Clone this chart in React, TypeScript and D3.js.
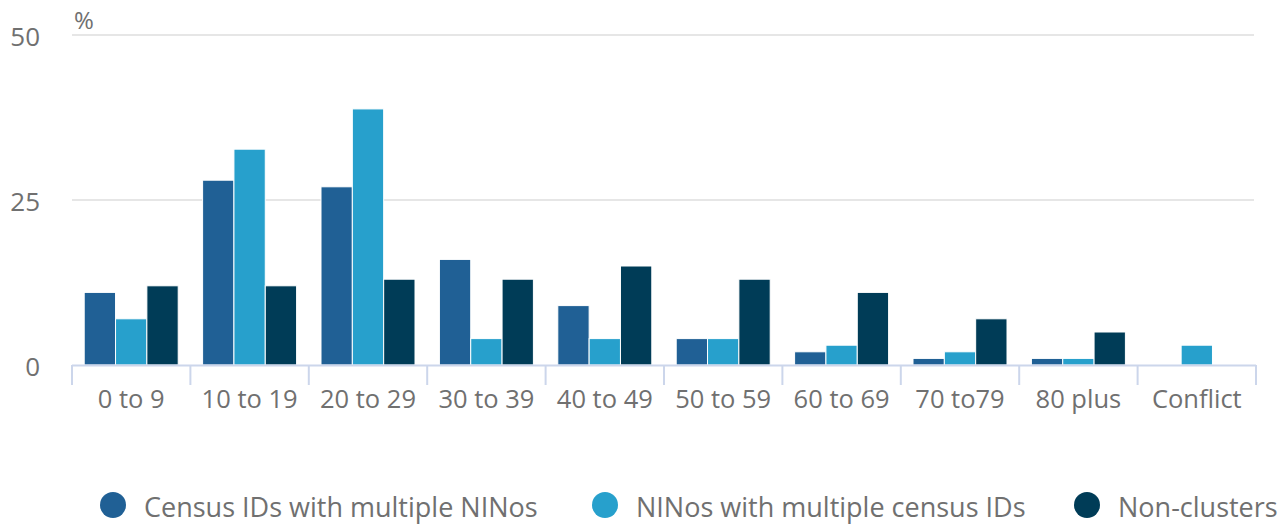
import React from "react";
import * as d3 from "d3";

const categories = ["0 to 9", "10 to 19", "20 to 29", "30 to 39", "40 to 49", "50 to 59", "60 to 69", "70 to79", "80 plus", "Conflict"];
const censusIds = [11, 28, 27, 16, 9, 4, 2, 1, 1, 0];
const ninos = [7, 32.7, 38.8, 4, 4, 4, 3, 2, 1, 3];
const nonClusters = [12, 12, 13, 13, 15, 13, 11, 7, 5, 0];
const seriesNames = ["Census IDs with multiple NINos", "NINos with multiple census IDs", "Non-clusters"];
const colors = ["#206095", "#27a0cc", "#003c57"];
const yTicks = [0, 25, 50];

export default function App() {
  const W = 1287, H = 524;
  const left = 72, right = 1256, top = 35, bottom = 365;
  const x = d3.scaleBand<string>().domain(categories).range([left, right]).paddingInner(0).paddingOuter(0);
  const y = d3.scaleLinear().domain([0, 50]).range([bottom, top]);
  const groupPad = 12.2;
  const inner = d3.scaleBand<number>().domain([0, 1, 2]).range([groupPad, x.bandwidth() - groupPad]).padding(0);
  const series = [censusIds, ninos, nonClusters];
  const font = "'Open Sans', sans-serif";
  const textColor = "#707070";
  const legendX = [113, 605, 1087];

  return (
    <svg width={W} height={H} style={{ position: "absolute", left: 0, top: 0 }} fontFamily={font}>
      {yTicks.filter(t => t > 0).map(t => (
        <line key={t} x1={left} x2={1254} y1={y(t)} y2={y(t)} stroke="#e6e6e6" strokeWidth={2} />
      ))}
      {yTicks.map(t => (
        <text key={t} x={40} y={y(t) + 11} textAnchor="end" fontSize={26} fill={textColor}>{t}</text>
      ))}
      <text x={74} y={29} fontSize={24} fill={textColor}>%</text>
      {series.map((vals, si) =>
        vals.map((v, ci) => v > 0 ? (
          <rect key={`${si}-${ci}`} x={(x(categories[ci]) ?? 0) + (inner(si) ?? 0)} y={y(v)} width={inner.bandwidth()} height={bottom - y(v)} fill={colors[si]} stroke="#ffffff" strokeWidth={1} />
        ) : null)
      )}
      <line x1={left} x2={right} y1={bottom + 0.5} y2={bottom + 0.5} stroke="#ccd6eb" strokeWidth={2} />
      {[...categories.map(c => x(c) ?? 0), right].map((tx, i) => (
        <line key={i} x1={tx} x2={tx} y1={bottom} y2={bottom + 20} stroke="#ccd6eb" strokeWidth={2} />
      ))}
      {categories.map(c => (
        <text key={c} x={(x(c) ?? 0) + x.bandwidth() / 2} y={408} textAnchor="middle" fontSize={25.5} fill={textColor}>{c}</text>
      ))}
      {seriesNames.map((n, i) => (
        <g key={n}>
          <circle cx={legendX[i]} cy={505} r={13} fill={colors[i]} />
          <text x={legendX[i] + 31} y={517} fontSize={27} fill={textColor}>{n}</text>
        </g>
      ))}
    </svg>
  );
}
